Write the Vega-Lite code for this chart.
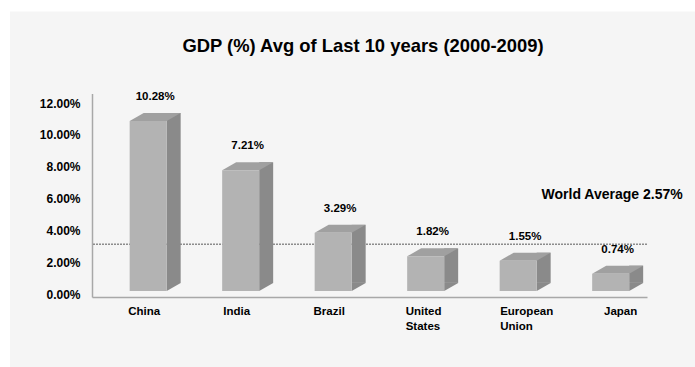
{
  "$schema": "https://vega.github.io/schema/vega-lite/v6.json",
  "width": 555,
  "height": 203.5,
  "autosize": {"type": "none"},
  "padding": {"left": 92, "top": 93.5, "right": 48, "bottom": 70},
  "background": "white",
  "config": {
    "view": {"fill": "#f5f5f5", "stroke": "#f5f5f5", "strokeWidth": 164},
    "font": "Liberation Sans",
    "axis": {"labelOverlap": false, "labelFlush": false},
    "axisY": {
      "title": null,
      "domain": true,
      "domainColor": "#a8a8a8",
      "domainWidth": 1.5,
      "ticks": false,
      "grid": false,
      "tickCount": 20,
      "labelOverlap": false,
      "labelFlush": false,
      "labelPadding": 12,
      "labelOffset": 9.5,
      "labelFontSize": 12,
      "labelFontWeight": "bold",
      "labelColor": "#000000",
      "labelFont": "Liberation Sans"
    }
  },
  "title": {
    "text": "GDP (%) Avg of Last 10 years (2000-2009)",
    "fontSize": 18.4,
    "fontWeight": "bold",
    "color": "#000000",
    "font": "Liberation Sans",
    "anchor": "middle",
    "frame": "group",
    "dx": -6.5,
    "offset": 36
  },
  "data": {
    "values": [
      {"country": "China", "gdp": 0.1028},
      {"country": "India", "gdp": 0.0721},
      {"country": "Brazil", "gdp": 0.0329},
      {"country": "United States", "gdp": 0.0182},
      {"country": "European Union", "gdp": 0.0155},
      {"country": "Japan", "gdp": 0.0074}
    ]
  },
  "layer": [
    {
      "data": {"values": [{"avg": 0.0257, "label": "World Average 2.57%"}]},
      "mark": {"type": "rule", "color": "#8c8c8c", "strokeWidth": 1.5, "strokeDash": [2, 1]},
      "encoding": {
        "y": {
          "field": "avg",
          "type": "quantitative",
          "title": null,
          "scale": {"domain": [-0.0072, 0.12], "zero": false, "nice": false},
          "axis": {
            "values": [0, 0.02, 0.04, 0.06, 0.08, 0.1, 0.12],
            "tickCount": 20,
            "format": ".2%",
            "labelOverlap": false
          }
        }
      }
    },
    {
      "data": {"values": [{"avg": 0.0257, "label": "World Average 2.57%"}]},
      "mark": {"type": "text", "align": "right", "baseline": "middle", "dx": 72, "dy": -49.5, "fontSize": 14, "fontWeight": "bold", "color": "#000000", "font": "Liberation Sans"},
      "encoding": {
        "x": {"datum": "Japan", "type": "nominal", "title": null},
        "y": {"field": "avg", "type": "quantitative", "title": null},
        "text": {"field": "label"}
      }
    },
    {
      "mark": {"type": "bar", "color": "#8a8a8a", "width": 14, "xOffset": 25.5, "yOffset": -8, "y2Offset": -8},
      "encoding": {
        "x": {"field": "country", "type": "nominal", "title": null},
        "y": {"field": "gdp", "type": "quantitative", "title": null},
        "y2": {"datum": -0.0034}
      }
    },
    {
      "mark": {"type": "point", "shape": "M -1 0.571 L -1 -0.571 L 1 -0.571 Z", "size": 196, "filled": true, "color": "#8a8a8a", "opacity": 1, "strokeWidth": 0, "xOffset": 25.5, "yOffset": -4},
      "encoding": {
        "x": {"field": "country", "type": "nominal", "title": null},
        "y": {"datum": -0.0034, "type": "quantitative", "title": null}
      }
    },
    {
      "mark": {"type": "point", "shape": "M -1 0.157 L 0.451 0.157 L 1 -0.157 L -0.451 -0.157 Z", "size": 2601, "filled": true, "color": "#a0a0a0", "opacity": 1, "strokeWidth": 0, "xOffset": 7, "yOffset": -4},
      "encoding": {
        "x": {"field": "country", "type": "nominal", "title": null},
        "y": {"field": "gdp", "type": "quantitative", "title": null}
      }
    },
    {
      "mark": {"type": "bar", "color": "#b3b3b3", "width": 37},
      "encoding": {
        "x": {
          "field": "country",
          "type": "nominal",
          "title": null,
          "scale": {
            "domain": ["China", "India", "Brazil", "United States", "European Union", "Japan"],
            "paddingInner": 0.4,
            "paddingOuter": 0.2,
            "align": 0.768
          },
          "axis": {
            "title": null,
            "domain": true,
            "domainColor": "#a8a8a8",
            "domainWidth": 1.5,
            "ticks": false,
            "grid": false,
            "labelAngle": 0,
            "labelPadding": 14,
            "labelFontSize": 11.5,
            "labelFontWeight": "bold",
            "labelColor": "#000000",
            "labelFont": "Liberation Sans",
            "labelOverlap": false,
            "labelExpr": "split(datum.label, ' ')",
            "labelLineHeight": 15,
            "labelAlign": {"condition": {"test": "indexof(datum.value, ' ') >= 0", "value": "left"}, "value": "center"},
            "labelOffset": {"condition": [
              {"test": "datum.value === 'United States'", "value": -20},
              {"test": "datum.value === 'European Union'", "value": -18},
              {"test": "datum.value === 'Japan'", "value": 10}
            ], "value": -4}
          }
        },
        "y": {"field": "gdp", "type": "quantitative", "title": null, "axis": {"values": [0, 0.02, 0.04, 0.06, 0.08, 0.1, 0.12], "tickCount": 20, "format": ".2%", "labelOverlap": false}},
        "y2": {"datum": -0.0034}
      }
    },
    {
      "mark": {"type": "text", "dx": 7, "dy": -24, "fontSize": 11.5, "fontWeight": "bold", "color": "#000000", "font": "Liberation Sans"},
      "encoding": {
        "x": {"field": "country", "type": "nominal", "title": null},
        "y": {"field": "gdp", "type": "quantitative", "title": null},
        "text": {"field": "gdp", "type": "quantitative", "format": ".2%"}
      }
    }
  ]
}
